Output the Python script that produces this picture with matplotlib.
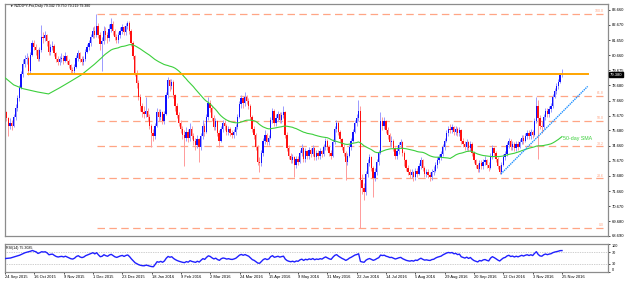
import numpy as np
import pandas as pd
import matplotlib
matplotlib.use("Agg")
import matplotlib.pyplot as plt
from matplotlib.transforms import blended_transform_factory

plt.rcParams['font.family'] = ['Liberation Sans', 'DejaVu Sans']

# ---------------- data ----------------
first_open = 77.1
last_open = 79.342

close = [
    76.9, 76.5, 76.0, 76.2, 76.0, 76.6, 77.2, 77.8, 78.5, 79.4,
    80.1, 80.4, 80.5, 79.6, 80.7, 81.5, 81.2, 81.0, 80.4, 81.0,
    81.9, 81.8, 82.0, 81.6, 80.9, 81.2, 81.3, 80.8, 80.4, 80.2,
    80.4, 80.5, 80.3, 80.6, 80.3, 80.0, 79.7, 79.6, 79.9, 80.5,
    80.8, 80.4, 80.2, 80.4, 80.9, 81.2, 81.5, 81.9, 82.3, 82.0,
    82.6, 82.0, 81.4, 81.6, 82.3, 82.0, 81.8, 82.4, 82.7, 82.3,
    81.9, 81.7, 82.0, 82.3, 82.5, 82.2, 82.6, 82.8, 82.3, 81.5,
    80.6, 79.5, 78.8, 77.9, 77.3, 76.9, 76.8, 77.0, 76.6, 76.0,
    75.5, 75.3, 76.0, 76.9, 76.6, 76.9, 76.3, 76.8, 78.0, 79.0,
    78.6, 78.9, 78.0, 77.3, 76.7, 76.2, 75.8, 75.4, 75.2, 75.6,
    75.2, 75.8, 75.3, 75.0, 74.7, 75.1, 74.6, 75.3, 76.0, 75.6,
    76.6, 77.5, 77.2, 76.5, 75.9, 76.3, 75.5, 75.0, 75.8, 76.2,
    76.0, 75.6, 75.8, 75.5, 75.4, 75.6, 75.9, 76.6, 77.4, 77.8,
    77.5, 77.9, 77.6, 77.3, 76.6, 75.8, 75.4, 74.6, 73.6, 73.5,
    74.2, 75.0, 75.4, 74.9, 75.2, 76.4, 77.0, 76.2, 76.5, 76.8,
    76.4, 76.7, 76.9, 75.4, 74.5, 74.0, 73.7, 73.9, 73.4, 73.8,
    73.6, 74.2, 74.5, 73.8, 74.3, 74.0, 74.4, 74.1, 74.5, 73.9,
    74.2, 74.0, 74.3, 74.1, 74.6, 75.0, 74.6, 74.2, 74.0, 74.9,
    75.8, 76.2, 75.6, 75.1, 74.6, 74.2, 73.6, 74.0, 74.6, 75.0,
    75.6, 76.2, 76.5, 77.0, 72.4, 71.9, 71.6, 72.8, 73.5, 73.9,
    73.2, 72.5, 72.9, 73.6, 74.2, 76.3, 76.0, 76.3, 75.7, 75.4,
    74.9, 75.0, 74.5, 74.0, 74.3, 74.7, 74.9, 74.2, 73.7, 73.2,
    72.9, 72.7, 72.9, 72.6, 73.0, 72.8, 73.3, 73.7, 73.2, 72.8,
    72.9, 72.7, 72.6, 72.9, 73.0, 73.4, 73.7, 73.9, 74.1, 74.6,
    75.0, 75.5, 75.8, 75.7, 75.9, 75.6, 75.8, 75.5, 75.7, 75.0,
    74.8, 74.6, 74.9, 74.5, 74.8, 74.2, 73.7, 73.4, 73.1, 73.5,
    73.3, 73.6, 73.7, 73.4, 73.2, 74.0, 74.5, 74.2, 73.8, 73.3,
    72.9, 73.4, 73.9, 74.1, 74.7, 75.0, 74.6, 74.8, 74.5, 74.8,
    74.6, 74.9, 75.2, 75.0, 75.3, 75.5, 75.3, 75.6, 75.4, 76.3,
    77.3, 76.5, 76.0, 75.9, 76.6, 77.0, 76.8, 77.1, 77.3, 77.9,
    78.3, 78.6, 78.9, 79.34, 79.38,
]

high = [
    77.3, 77.0, 76.6, 76.5, 76.4, 76.8, 77.4, 78.0, 78.7, 79.6,
    80.4, 80.7, 80.8, 80.6, 80.9, 81.7, 81.7, 81.4, 81.1, 81.2,
    82.67, 82.2, 82.3, 82.1, 81.7, 81.4, 81.6, 81.4, 80.9, 80.6,
    80.6, 80.8, 80.7, 80.9, 80.7, 80.4, 80.1, 79.9, 80.1, 80.7,
    81.0, 80.9, 80.6, 80.6, 81.1, 81.4, 81.7, 82.1, 82.5, 82.6,
    83.4, 82.8, 82.2, 81.9, 82.6, 82.5, 82.2, 82.7, 83.1, 82.9,
    82.4, 82.1, 82.2, 82.5, 82.7, 82.6, 82.8, 82.95, 82.9, 82.4,
    81.6, 80.7, 79.7, 79.0, 78.1, 77.5, 77.3, 77.9, 77.2, 76.8,
    76.1, 75.8, 76.2, 77.2, 77.1, 77.1, 77.0, 77.0, 78.2, 79.2,
    79.1, 79.1, 79.0, 78.1, 77.5, 76.9, 76.4, 76.0, 75.7, 75.9,
    75.8, 76.2, 76.0, 75.5, 75.2, 75.4, 75.2, 75.5, 76.4, 76.2,
    76.8, 77.9, 77.7, 77.3, 76.7, 76.5, 76.4, 75.7, 76.0, 76.4,
    76.4, 76.1, 76.0, 75.9, 75.7, 75.8, 76.1, 76.8, 77.6, 78.0,
    77.9, 78.2, 78.0, 77.8, 77.4, 76.7, 76.0, 75.5, 74.7, 73.9,
    74.4, 75.2, 75.7, 75.5, 75.4, 76.6, 77.2, 77.1, 76.8, 77.0,
    76.9, 76.9, 77.3, 77.0, 75.6, 74.7, 74.2, 74.1, 74.0, 74.0,
    74.0, 74.4, 74.8, 74.6, 74.5, 74.4, 74.6, 74.5, 74.7, 74.6,
    74.4, 74.4, 74.5, 74.4, 74.8, 75.2, 75.1, 74.7, 74.4, 75.1,
    76.0, 76.4, 76.3, 75.7, 75.2, 74.8, 74.3, 74.2, 74.8, 75.2,
    75.8, 76.4, 76.8, 77.7, 77.3, 72.8, 72.2, 73.0, 73.8, 74.1,
    74.0, 73.3, 73.2, 73.8, 74.4, 76.9, 76.6, 76.6, 76.4, 75.9,
    75.5, 75.3, 75.1, 74.6, 74.6, 74.9, 75.1, 75.0, 74.3, 73.8,
    73.4, 73.1, 73.1, 73.0, 73.2, 73.2, 73.5, 73.9, 73.8, 73.3,
    73.1, 73.1, 72.9, 73.1, 73.3, 73.6, 73.9, 74.1, 74.3, 74.8,
    75.2, 75.7, 76.0, 76.1, 76.1, 76.0, 76.0, 75.9, 75.9, 75.8,
    75.2, 75.0, 75.1, 75.0, 75.0, 74.9, 74.3, 73.8, 73.5, 73.7,
    73.7, 73.8, 74.0, 73.8, 73.6, 74.2, 74.7, 74.6, 74.3, 73.9,
    73.4, 73.6, 74.1, 74.3, 74.9, 75.2, 75.1, 75.0, 74.9, 75.0,
    75.0, 75.1, 75.4, 75.4, 75.5, 75.7, 75.7, 75.8, 75.7, 76.5,
    77.9, 77.7, 76.7, 76.3, 76.8, 77.2, 77.2, 77.3, 77.5, 78.1,
    78.5, 78.8, 79.1, 79.5, 79.75,
]

low = [
    76.6, 76.3, 75.3, 75.8, 75.7, 75.9, 76.4, 77.0, 77.6, 78.4,
    79.2, 79.9, 80.1, 79.35, 79.5, 80.6, 81.0, 80.7, 80.3, 80.3,
    80.9, 81.5, 81.6, 81.3, 80.7, 80.7, 81.0, 80.6, 80.2, 80.0,
    80.0, 80.2, 80.1, 80.2, 80.1, 79.8, 79.5, 79.45, 79.5, 79.8,
    80.3, 80.2, 80.0, 80.0, 80.3, 80.8, 81.0, 81.3, 81.8, 81.8,
    81.9, 81.8, 81.0, 79.6, 81.4, 81.7, 81.5, 81.6, 82.2, 82.0,
    81.7, 81.5, 81.5, 81.8, 82.1, 82.0, 82.0, 82.4, 82.1, 81.3,
    80.4, 79.3, 78.5, 77.7, 77.0, 76.6, 76.5, 76.6, 76.3, 75.8,
    74.6, 75.0, 75.1, 75.9, 76.3, 76.4, 76.1, 76.1, 76.7, 77.8,
    78.3, 78.4, 77.8, 77.0, 76.5, 76.0, 75.5, 75.1, 73.3, 75.0,
    74.9, 75.0, 75.1, 74.7, 74.4, 74.5, 73.6, 74.4, 75.1, 75.3,
    75.5, 76.4, 76.9, 76.3, 75.7, 75.7, 75.3, 74.6, 74.9, 75.6,
    75.7, 75.4, 75.4, 75.3, 75.2, 75.2, 75.4, 75.8, 76.5, 77.2,
    77.2, 77.3, 77.4, 77.1, 76.4, 75.6, 75.1, 74.4, 73.4, 72.9,
    73.3, 74.0, 74.8, 74.7, 74.7, 75.1, 76.2, 76.0, 76.0, 76.3,
    76.2, 76.2, 76.5, 75.2, 74.3, 73.8, 73.5, 73.5, 72.6, 73.2,
    73.4, 73.5, 74.0, 73.6, 73.6, 73.8, 73.8, 73.9, 74.0, 73.7,
    73.7, 73.8, 73.8, 73.9, 74.0, 74.4, 74.4, 74.0, 73.8, 73.9,
    74.8, 75.6, 75.4, 74.9, 74.4, 74.0, 72.4, 73.4, 73.9, 74.4,
    74.9, 75.5, 76.0, 76.3, 69.2, 71.5, 71.1, 71.4, 72.6, 73.3,
    73.0, 71.3, 72.3, 72.7, 73.4, 74.1, 75.7, 75.8, 75.5, 75.1,
    74.6, 74.6, 74.3, 73.8, 73.8, 74.1, 74.5, 74.0, 73.3, 73.0,
    72.7, 72.5, 72.5, 72.3, 72.4, 72.6, 72.7, 73.1, 73.0, 72.6,
    72.6, 72.5, 72.3, 72.4, 72.7, 72.9, 73.2, 73.5, 73.7, 74.0,
    74.4, 74.9, 75.3, 75.5, 75.5, 75.4, 75.4, 75.3, 75.3, 74.8,
    74.6, 74.4, 74.4, 74.3, 74.3, 74.0, 73.5, 73.2, 72.9, 72.9,
    73.1, 73.1, 73.4, 73.2, 73.0, 73.1, 73.8, 74.0, 73.6, 73.1,
    72.78, 72.8, 73.3, 73.7, 74.0, 74.5, 74.4, 74.4, 74.3, 74.3,
    74.4, 74.5, 74.8, 74.8, 74.9, 75.1, 75.1, 75.1, 75.2, 75.3,
    76.2, 73.8, 75.8, 75.5, 75.8, 76.4, 76.6, 76.6, 76.9, 77.2,
    77.8, 78.1, 78.4, 78.8, 79.219,
]

date_labels = ["24 Sep 2015", "16 Oct 2015", "9 Nov 2015", "1 Dec 2015",
               "23 Dec 2015", "18 Jan 2016", "9 Feb 2016", "2 Mar 2016",
               "24 Mar 2016", "15 Apr 2016", "9 May 2016", "31 May 2016",
               "22 Jun 2016", "14 Jul 2016", "5 Aug 2016", "29 Aug 2016",
               "20 Sep 2016", "12 Oct 2016", "3 Nov 2016", "25 Nov 2016"]
label_step = 16

price_ticks = [83.660, 82.670, 81.650, 80.660, 79.675, 78.680, 77.660, 76.670,
               75.680, 74.660, 73.670, 72.680, 71.660, 70.670, 69.680, 68.690]
price_tick_labels = ["83.660", "82.670", "81.650", "80.660", "79.675", "78.680",
                     "77.660", "76.670", "75.680", "74.660", "73.670", "72.680",
                     "71.660", "70.670", "69.680", "68.690"]

fib_names = ["100.0", "61.8", "50.0", "38.2", "23.6", "0.0"]
fib_prices = [83.40, 77.95, 76.32, 74.62, 72.50, 69.21]
fib_start, fib_end = 50.5, 326.5

resist_price = 79.40
resist_start, resist_end = 12.8, 318.0

trend_x = [270.7, 318.0]
trend_y = [72.80, 78.60]

# 50-day SMA before 50 bars of data are available
sma_head_x = [0, 5, 10, 18, 24, 30, 36, 42]
sma_head_y = [79.2, 78.7, 78.45, 78.23, 78.1, 78.5, 78.93, 79.37]

# RSI before 14 bars of data are available
rsi_head_x = [0, 3, 8, 11]
rsi_head_y = [48, 50, 60, 69]

title_text = "\u25BC NZDJPY-Pro,Daily 79.342 79.750 79.219 79.380"
rsi_title = "RSI(14) 75.3085"
last_price_text = "79.380"

# ---------------- derived ----------------
c = np.array(close)
h = np.array(high)
l = np.array(low)
o = np.r_[first_open, c[:-1]]
o[-1] = last_open
x = np.arange(len(c))
up = c >= o

sma = pd.Series(c).rolling(50).mean().values
sma_x = np.r_[sma_head_x, x[49:]]
sma_y = np.r_[sma_head_y, sma[49:]]

n = 14
d = np.diff(c)
gain = np.clip(d, 0, None)
loss = np.clip(-d, 0, None)
ag = gain[:n].mean()
al = loss[:n].mean()
rsi_vals = [100 - 100 / (1 + ag / al)]
for k in range(n, len(d)):
    ag = (ag * (n - 1) + gain[k]) / n
    al = (al * (n - 1) + loss[k]) / n
    rsi_vals.append(100 - 100 / (1 + ag / al) if al > 0 else 100)
rsi_x = np.r_[rsi_head_x, np.arange(n, len(c))]
rsi_y = np.r_[rsi_head_y, rsi_vals]

# ---------------- figure ----------------
W, H = 628, 284
fig = plt.figure(figsize=(W / 100, H / 100), dpi=100)
fig.patch.set_facecolor("white")

ax = fig.add_axes([5 / W, (H - 236) / H, 603 / W, 232 / H])
rax = fig.add_axes([5 / W, 12 / H, 603 / W, 28 / H])

xlim = (0.27, 329.1)
ylim = (68.75, 84.056)
ax.set_xlim(*xlim)
ax.set_ylim(*ylim)

spine_col = "#8c8c8c"
for a in (ax, rax):
    for s in a.spines.values():
        s.set_color(spine_col)
        s.set_linewidth(0.9)

# fib levels
fib_col = "#ffa585"
for nm, p in zip(fib_names, fib_prices):
    ax.plot([fib_start, fib_end], [p, p], color=fib_col, lw=0.9,
            dashes=(6, 3.5), zorder=1)
    ax.text(fib_end + 0.5, p + 0.05, nm, color=fib_col, fontsize=2.5,
            ha="right", va="bottom", zorder=5)

# candles
wick_up, wick_dn = "#9a9aff", "#ff9a9a"
ax.vlines(x[up], l[up], h[up], color=wick_up, lw=0.7, zorder=2)
ax.vlines(x[~up], l[~up], h[~up], color=wick_dn, lw=0.7, zorder=2)
body = np.maximum(np.abs(c - o), 0.05)
ax.bar(x[up], body[up], bottom=np.minimum(o, c)[up], width=0.7,
       color="#1010ff", linewidth=0, zorder=3)
ax.bar(x[~up], body[~up], bottom=np.minimum(o, c)[~up], width=0.7,
       color="#ff1010", linewidth=0, zorder=3)

# SMA
ax.plot(sma_x, sma_y, color="#3ccf3c", lw=0.8, zorder=4)
ax.text(304.5, 75.15, "50-day SMA", color="#3ccf3c", fontsize=3.8,
        ha="left", va="center", zorder=5)

# resistance and trend line
ax.plot([resist_start, resist_end], [resist_price, resist_price],
        color="#ffa500", lw=1.4, zorder=4)
ax.plot(trend_x, trend_y, color="#1e90ff", lw=1.0, ls=(0, (1, 0.6)), zorder=4)

# price axis
ax.yaxis.tick_right()
ax.set_yticks(price_ticks)
ax.set_yticklabels(price_tick_labels)
ax.tick_params(axis="y", labelsize=3.0, length=1.5, width=0.5, pad=1.2,
               colors="black")
ax.set_xticks([])

trans = blended_transform_factory(ax.transAxes, ax.transData)
ax.text(1.003, c[-1], last_price_text, transform=trans, fontsize=3.0,
        color="white", ha="left", va="center", zorder=10,
        bbox=dict(facecolor="black", edgecolor="black", pad=0.6))

fig.text(10 / W, 1 - 6 / H, title_text, fontsize=2.5, ha="left",
         va="center", color="black")

# RSI panel
rax.set_xlim(*xlim)
rax.set_ylim(0, 100)
rax.plot(rsi_x, rsi_y, color="#2020ff", lw=1.0, zorder=3)
for lv in (70, 30):
    rax.axhline(lv, color="#a0a0a0", lw=0.5, ls=(0, (1, 1.5)), zorder=1)
rax.yaxis.tick_right()
rax.set_yticks([100, 70, 30, 0])
rax.set_yticklabels(["100", "70", "30", "0"])
rax.tick_params(axis="y", labelsize=2.7, length=1.5, width=0.5, pad=1.2)
ylabs = rax.get_yticklabels()
ylabs[0].set_va("top")
ylabs[3].set_va("bottom")
rax.text(0.002, 0.93, rsi_title, transform=rax.transAxes, fontsize=2.6,
         ha="left", va="top")

tick_pos = [k * label_step for k in range(len(date_labels))]
rax.set_xticks(tick_pos)
rax.set_xticklabels(date_labels)
rax.tick_params(axis="x", labelsize=2.9, length=1.5, width=0.5, pad=1.0)
for t in rax.get_xticklabels():
    t.set_ha("left")

fig.savefig("out.png", dpi=100, facecolor="white")
